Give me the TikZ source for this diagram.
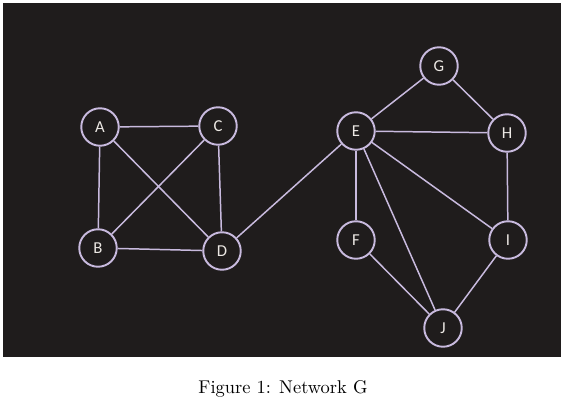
\documentclass[tikz,border=0pt]{standalone}
\usepackage{fontspec}
\usepackage{xcolor}
\usepackage{tikz}
\usetikzlibrary{positioning}
\newfontfamily\nodefont{Carlito}
\definecolor{mybg}{RGB}{31,28,28}
\definecolor{mylilac}{RGB}{200,186,222}
\definecolor{mylabel}{RGB}{236,232,228}
\tikzstyle{vertex} = [circle, draw=mylilac, line width=1.1pt, minimum size=0.75cm, inner sep=0pt, text=mylabel, font=\nodefont\fontsize{9.5}{9.5}\selectfont]
\tikzstyle{edge} = [draw=mylilac, line width=0.85pt]

\begin{document}
\begin{tikzpicture}[x=0.02cm, y=-0.02cm]
    \useasboundingbox (0,0) rectangle (567,402);
    \fill[mybg] (3,3) rectangle (561,357);
    % left block
    \node[vertex] (A) at (100,127) {A};
    \node[vertex] (C) at (218,126) {C};
    \node[vertex] (B) at (98,248) {B};
    \node[vertex] (D) at (222,251) {D};
    % right block
    \node[vertex] (E) at (356,131) {E};
    \node[vertex] (G) at (439,66) {G};
    \node[vertex] (H) at (507,133) {H};
    \node[vertex] (F) at (356,240) {F};
    \node[vertex] (I) at (508,240) {I};
    \node[vertex] (J) at (443,328) {J};
    \foreach \u/\v in {A/C,A/B,A/D,C/B,C/D,B/D,D/E,E/G,G/H,E/H,E/F,E/J,E/I,H/I,F/J,I/J}
        \draw[edge] (\u) -- (\v);
    \node (cap) at (283,389) {\fontsize{10.5}{12}\selectfont Figure 1: Network G};
\end{tikzpicture}
\end{document}
